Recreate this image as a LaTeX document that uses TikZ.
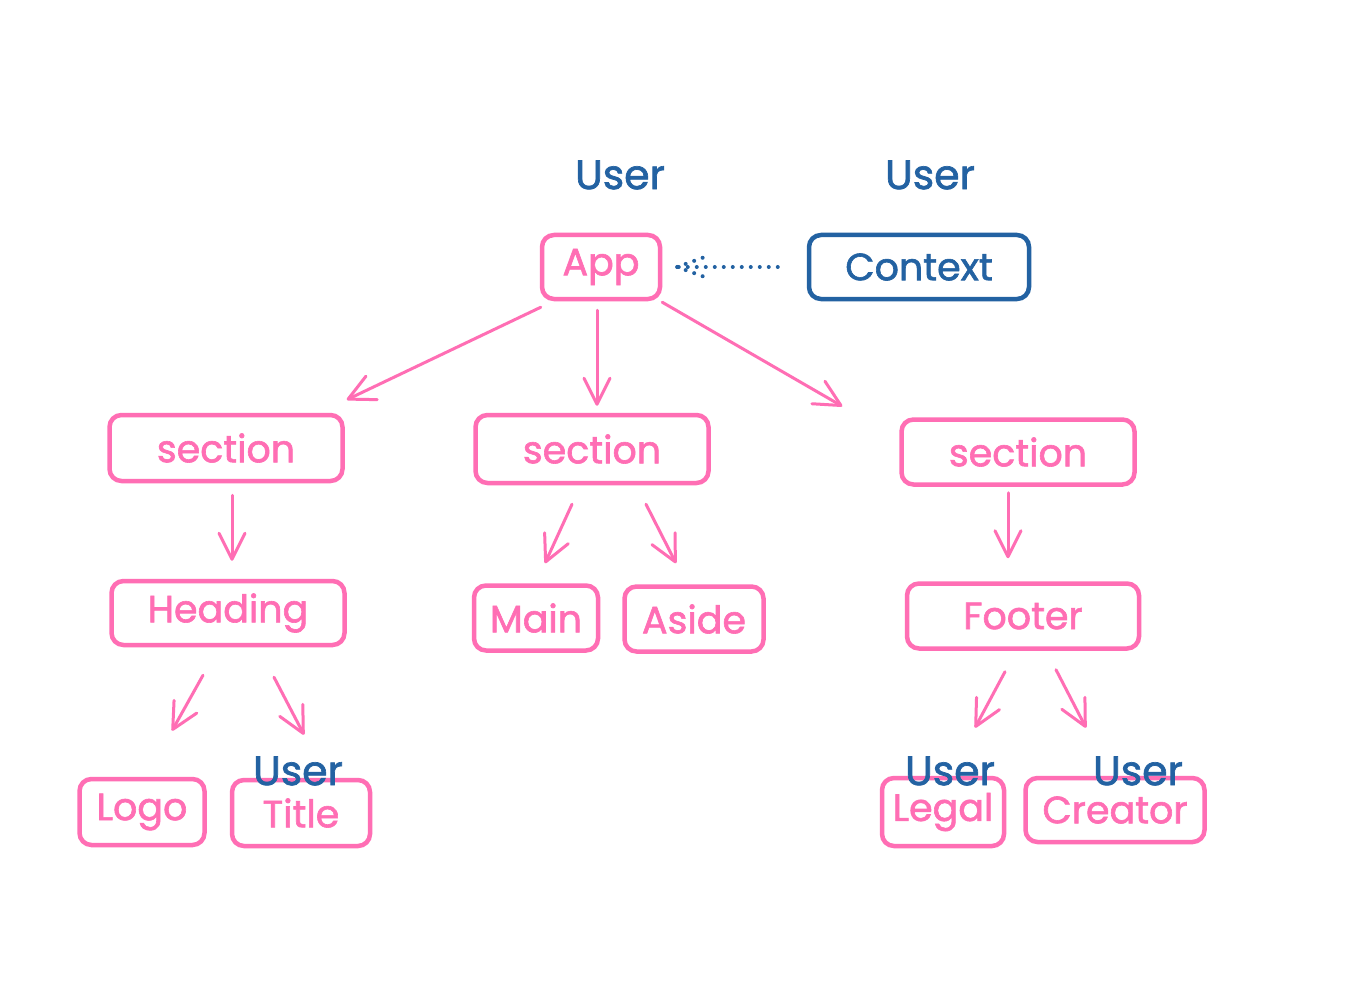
\documentclass[tikz,border=0pt]{standalone}
\usepackage{fontspec}
\setmainfont{Poppins}[BoldFont=*, BoldFeatures={FakeBold=1.6}]
\usetikzlibrary{arrows.meta,calc}
\definecolor{pk}{RGB}{255,110,180}
\definecolor{bl}{RGB}{35,98,162}
\begin{document}
\begin{tikzpicture}[x=1pt,y=-1pt,
  box/.style={draw=pk, line width=4.5pt, rounded corners=12pt, text=pk,
    font=\fontsize{38}{44}\selectfont\bfseries, minimum height=64pt, inner sep=0pt},
  bbox/.style={box, draw=bl, text=bl},
  usr/.style={text=bl, font=\fontsize{41}{44}\selectfont\bfseries, inner sep=0pt},
  arr/.style={draw=pk, line width=3pt, line cap=round, line join=round,
    -{Straight Barb[length=26pt,width=26pt,line cap=round,line join=round]}},
  dots/.style={draw=bl, line width=4pt, line cap=round, dash pattern=on 0pt off 9pt}
]
\useasboundingbox (0,0) rectangle (1354,1008);
\fill[white] (0,0) rectangle (1354,1008);

% nodes
\node[box, minimum width=118pt] (app) at (601,267) {App};
\node[bbox, minimum width=220pt] (ctx) at (919,267) {Context};
\node[box, minimum width=233pt, minimum height=66pt] (s1) at (226,448) {section};
\node[box, minimum width=233pt, minimum height=68pt] (s2) at (592,449) {section};
\node[box, minimum width=233pt, minimum height=65pt] (s3) at (1018,452) {section};
\node[box, minimum width=233pt] (heading) at (228,613) {Heading};
\node[box, minimum width=124pt, minimum height=65pt] (main) at (536,618) {Main};
\node[box, minimum width=139pt, minimum height=65pt] (aside) at (694,619) {Aside};
\node[box, minimum width=232pt, minimum height=65pt] (footer) at (1023,616) {Footer};
\node[box, minimum width=125pt, minimum height=66pt] (logo) at (142,812) {Logo};
\node[box, minimum width=138pt, minimum height=66pt] (title) at (301,813) {Title};
\node[box, minimum width=122pt, minimum height=68pt] (legal) at (943,812) {Legal};
\node[box, minimum width=179pt, minimum height=64pt] (creator) at (1115,810) {Creator};

% User labels
\node[usr] (u1) at (620,175) {User};
\node[usr] (u2) at (930,175) {User};
\node[usr] (u3) at (298,771) {User};
\node[usr] (u4) at (950,771) {User};
\node[usr] (u5) at (1138,771) {User};

% connectors
\draw[arr] ($(app.south west)+(1,6)$) -- ($(s1.north east)+(2,-13)$);
\draw[arr] ($(app.south)+(-4,9)$) -- ($(s2.north)+(5,-7)$);
\draw[arr] ($(app.south east)+(0,1)$) -- ($(s3.north west)+(-57,-11)$);
\draw[arr] ($(s1.south)+(6,12)$) -- ($(heading.north)+(4,-18)$);
\draw[arr] ($(s2.south)+(-20,19)$) -- ($(main.north)+(9,-20)$);
\draw[arr] ($(s2.south)+(54,19)$) -- ($(aside.north)+(-18,-21)$);
\draw[arr] ($(s3.south)+(-10,6)$) -- ($(footer.north)+(-15,-23)$);
\draw[arr] ($(heading.south)+(-25,28)$) -- ($(logo.north)+(30,-46)$);
\draw[arr] ($(heading.south)+(46,30)$) -- ($(title.north)+(3,-43)$);
\draw[arr] ($(footer.south)+(-18,21)$) -- ($(legal.north)+(32,-48)$);
\draw[arr] ($(footer.south)+(33,19)$) -- ($(creator.north)+(-29,-48)$);

% dotted arrow Context -> App
\coordinate (tip) at ($(app.east)+(15,0)$);
\draw[dots] ($(ctx.west)+(-29,0)$) -- (tip);
\draw[dots] (tip) -- ++(33,-12);
\draw[dots] (tip) -- ++(33,12);
\end{tikzpicture}
\end{document}
